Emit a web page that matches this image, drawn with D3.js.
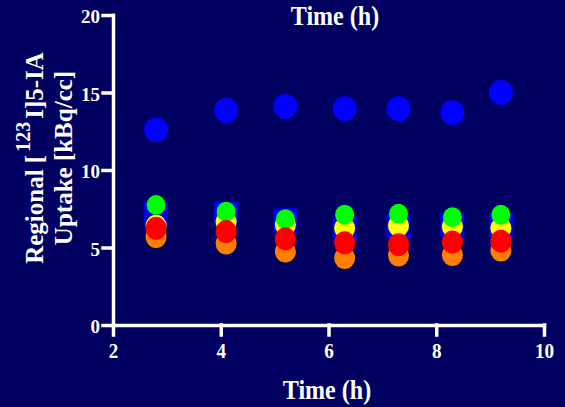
<!DOCTYPE html>
<html>
<head>
<meta charset="utf-8">
<script src="https://cdn.jsdelivr.net/npm/d3@7"></script>
<style>
  html, body { margin: 0; padding: 0; background: #000060; }
  svg { display: block; }
  text { font-family: "Liberation Serif", "Times New Roman", serif; font-weight: bold; fill: #ffffff; }
</style>
</head>
<body>
<svg id="chart" width="565" height="407"></svg>
<script>
const times = [2.8, 4.1, 5.2, 6.3, 7.3, 8.3, 9.2];
const blueCircle = [12.6, 13.85, 14.1, 13.95, 13.95, 13.7, 15.0];
const blueSquare = [7.18, 7.18, 6.75, 6.21, 6.37, 6.47, 6.47];
const orange = [5.68, 5.26, 4.74, 4.32, 4.48, 4.52, 4.81];
const yellow = [6.4, 6.65, 6.45, 6.24, 6.41, 6.34, 6.24];
const green = [7.74, 7.31, 6.83, 7.12, 7.17, 6.95, 7.11];
const red = [6.24, 6.03, 5.56, 5.30, 5.18, 5.35, 5.41];
const xTicks = [2, 4, 6, 8, 10];
const yTicks = [0, 5, 10, 15, 20];

const svg = d3.select("#chart");
svg.append("rect").attr("width", 565).attr("height", 407).attr("fill", "#000060");

const x = d3.scaleLinear().domain([2, 10]).range([113, 544]);
const y = d3.scaleLinear().domain([0, 20]).range([325, 15]);

// axes
const xAxis = svg.append("g").attr("transform", "translate(0,325)")
  .call(d3.axisBottom(x).tickValues(xTicks).tickSize(10).tickSizeOuter(0).tickFormat(d3.format("d")));
xAxis.selectAll("text").attr("y", 33).attr("dy", 0)
  .style("font-size", "22px").attr("transform", "scale(0.87,1)");

const yAxis = svg.append("g").attr("transform", "translate(113,0)")
  .call(d3.axisLeft(y).tickValues(yTicks).tickSize(10).tickSizeOuter(0).tickFormat(d3.format("d")));
yAxis.selectAll("text").attr("x", -13).attr("dy", 0).attr("y", 7.5)
  .style("font-size", "19px");

svg.selectAll(".domain, .tick line")
  .attr("stroke", "#ffffff").attr("stroke-width", 3.5).attr("stroke-linecap", "square");

// series
const plot = svg.append("g");
plot.selectAll(".bc").data(times.map((t, i) => [t, blueCircle[i]])).join("ellipse")
  .attr("cx", d => x(d[0])).attr("cy", d => y(d[1])).attr("rx", 12).attr("ry", 12.5).attr("fill", "#0000ff");
plot.selectAll(".bs").data(times.map((t, i) => [t, blueSquare[i]])).join("rect")
  .attr("x", d => x(d[0]) - 12).attr("y", d => y(d[1]) - 12).attr("width", 24).attr("height", 24).attr("fill", "#0000ff");

const circleSeries = [
  {vals: orange, color: "#ff8000", rx: 10.5, ry: 11},
  {vals: yellow, color: "#ffff00", rx: 10.5, ry: 11},
  {vals: green, color: "#00ff00", rx: 9.5, ry: 10},
  {vals: red, color: "#ff0000", rx: 10.5, ry: 11.5}
];
circleSeries.forEach(s => {
  plot.append("g").selectAll("ellipse").data(times.map((t, i) => [t, s.vals[i]])).join("ellipse")
    .attr("cx", d => x(d[0])).attr("cy", d => y(d[1]))
    .attr("rx", s.rx).attr("ry", s.ry).attr("fill", s.color);
});

// titles
svg.append("text").attr("transform", "translate(335,25) scale(0.89,1)")
  .attr("text-anchor", "middle").style("font-size", "27px").text("Time (h)");
svg.append("text").attr("transform", "translate(327,399) scale(0.89,1)")
  .attr("text-anchor", "middle").style("font-size", "27px").text("Time (h)");

// y label
const yl = svg.append("g").attr("transform", "translate(0,158) rotate(-90)");
const l1 = yl.append("text").attr("x", 0).attr("y", 43).attr("text-anchor", "middle").style("font-size", "25px");
l1.append("tspan").text("Regional [");
l1.append("tspan").attr("dy", -13).attr("dx", 3).style("font-size", "20px").text("123");
l1.append("tspan").attr("dy", 13).attr("dx", 3).text("I]5-IA");
yl.append("text").attr("x", 0).attr("y", 72).attr("text-anchor", "middle").style("font-size", "25px")
  .text("Uptake [kBq/cc]");
</script>
</body>
</html>
